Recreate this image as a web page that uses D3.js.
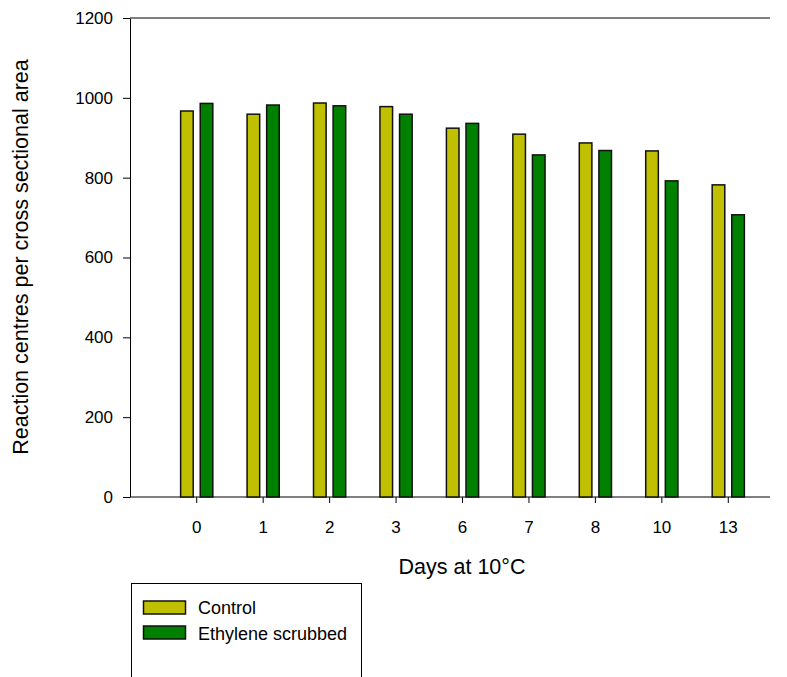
<!DOCTYPE html>
<html lang="en">
<head>
<meta charset="UTF-8">
<title>Reaction centres per cross sectional area</title>
<script src="https://d3js.org/d3.v7.min.js"></script>
<style>
  body { margin: 0; background: #fff; }
  text { font-family: "Liberation Sans", Arial, sans-serif; fill: #000; }
</style>
</head>
<body>
<div id="chart"></div>
<script>
const days = ["0", "1", "2", "3", "6", "7", "8", "10", "13"];
const control = [967, 959, 987, 978, 924, 909, 887, 867, 782];
const scrubbed = [986, 982, 980, 959, 936, 857, 868, 792, 707];
const yTicks = [0, 200, 400, 600, 800, 1000, 1200];
const seriesNames = ["Control", "Ethylene scrubbed"];
const colors = ["#c0c000", "#008000"];

const width = 787, height = 677;
const x0 = 130, x1 = 770, yTop = 18, yBottom = 497;
const font = "'Liberation Sans', Arial, sans-serif";

const svg = d3.select("#chart").append("svg")
    .attr("width", width)
    .attr("height", height);

const y = d3.scaleLinear().domain([0, 1200]).range([yBottom, yTop]);
const x = d3.scaleBand().domain(days).range([163.5, 761.5]).padding(0);
const barW = 12.6, gap = 7;

// y axis
svg.append("g")
    .attr("transform", `translate(${x0},0)`)
    .call(d3.axisLeft(y).tickValues(yTicks).tickFormat(d3.format("d"))
        .tickSize(7).tickPadding(10).tickSizeOuter(0))
    .attr("font-size", 17).attr("font-family", font)
    .call(g => g.select(".domain").attr("stroke", "#000"));

// x axis
svg.append("g")
    .attr("transform", `translate(0,${yBottom})`)
    .call(d3.axisBottom(x).tickSize(6).tickPadding(18).tickSizeOuter(0))
    .attr("font-size", 17).attr("font-family", font)
    .call(g => g.select(".domain").remove());

svg.append("line").attr("x1", x0).attr("x2", x1).attr("y1", yBottom).attr("y2", yBottom).attr("stroke", "#000");
svg.append("line").attr("x1", x0).attr("x2", x1).attr("y1", yTop).attr("y2", yTop).attr("stroke", "#000");

// bars
const rows = days.map((d, i) => ({ day: d, vals: [control[i], scrubbed[i]] }));
const groups = svg.append("g").selectAll("g")
    .data(rows)
    .join("g")
    .attr("transform", d => `translate(${x(d.day) + x.bandwidth() / 2},0)`);

groups.selectAll("rect")
    .data(d => d.vals.map((v, k) => ({ v, k })))
    .join("rect")
    .attr("x", d => d.k === 0 ? -gap / 2 - barW : gap / 2)
    .attr("width", barW)
    .attr("y", d => y(d.v))
    .attr("height", d => yBottom - y(d.v))
    .attr("fill", d => colors[d.k])
    .attr("stroke", "#111")
    .attr("stroke-width", 1.5);

// axis titles
svg.append("text")
    .attr("x", 462).attr("y", 574)
    .attr("text-anchor", "middle")
    .style("font-size", "21.5px")
    .text("Days at 10°C");

svg.append("text")
    .attr("transform", "translate(28,257) rotate(-90)")
    .attr("text-anchor", "middle")
    .style("font-size", "21.5px")
    .text("Reaction centres per cross sectional area");

// legend
const legend = svg.append("g");
legend.append("rect")
    .attr("x", 131.5).attr("y", 583.5)
    .attr("width", 230).attr("height", 110)
    .attr("fill", "none").attr("stroke", "#000");

seriesNames.forEach((name, i) => {
  legend.append("rect")
      .attr("x", 143.5).attr("y", 601 + i * 25)
      .attr("width", 42).attr("height", 13)
      .attr("fill", colors[i]).attr("stroke", "#111").attr("stroke-width", 1.5);
  legend.append("text")
      .attr("x", 198).attr("y", 614 + i * 25.5)
      .style("font-size", "18px")
      .text(name);
});
</script>
</body>
</html>
